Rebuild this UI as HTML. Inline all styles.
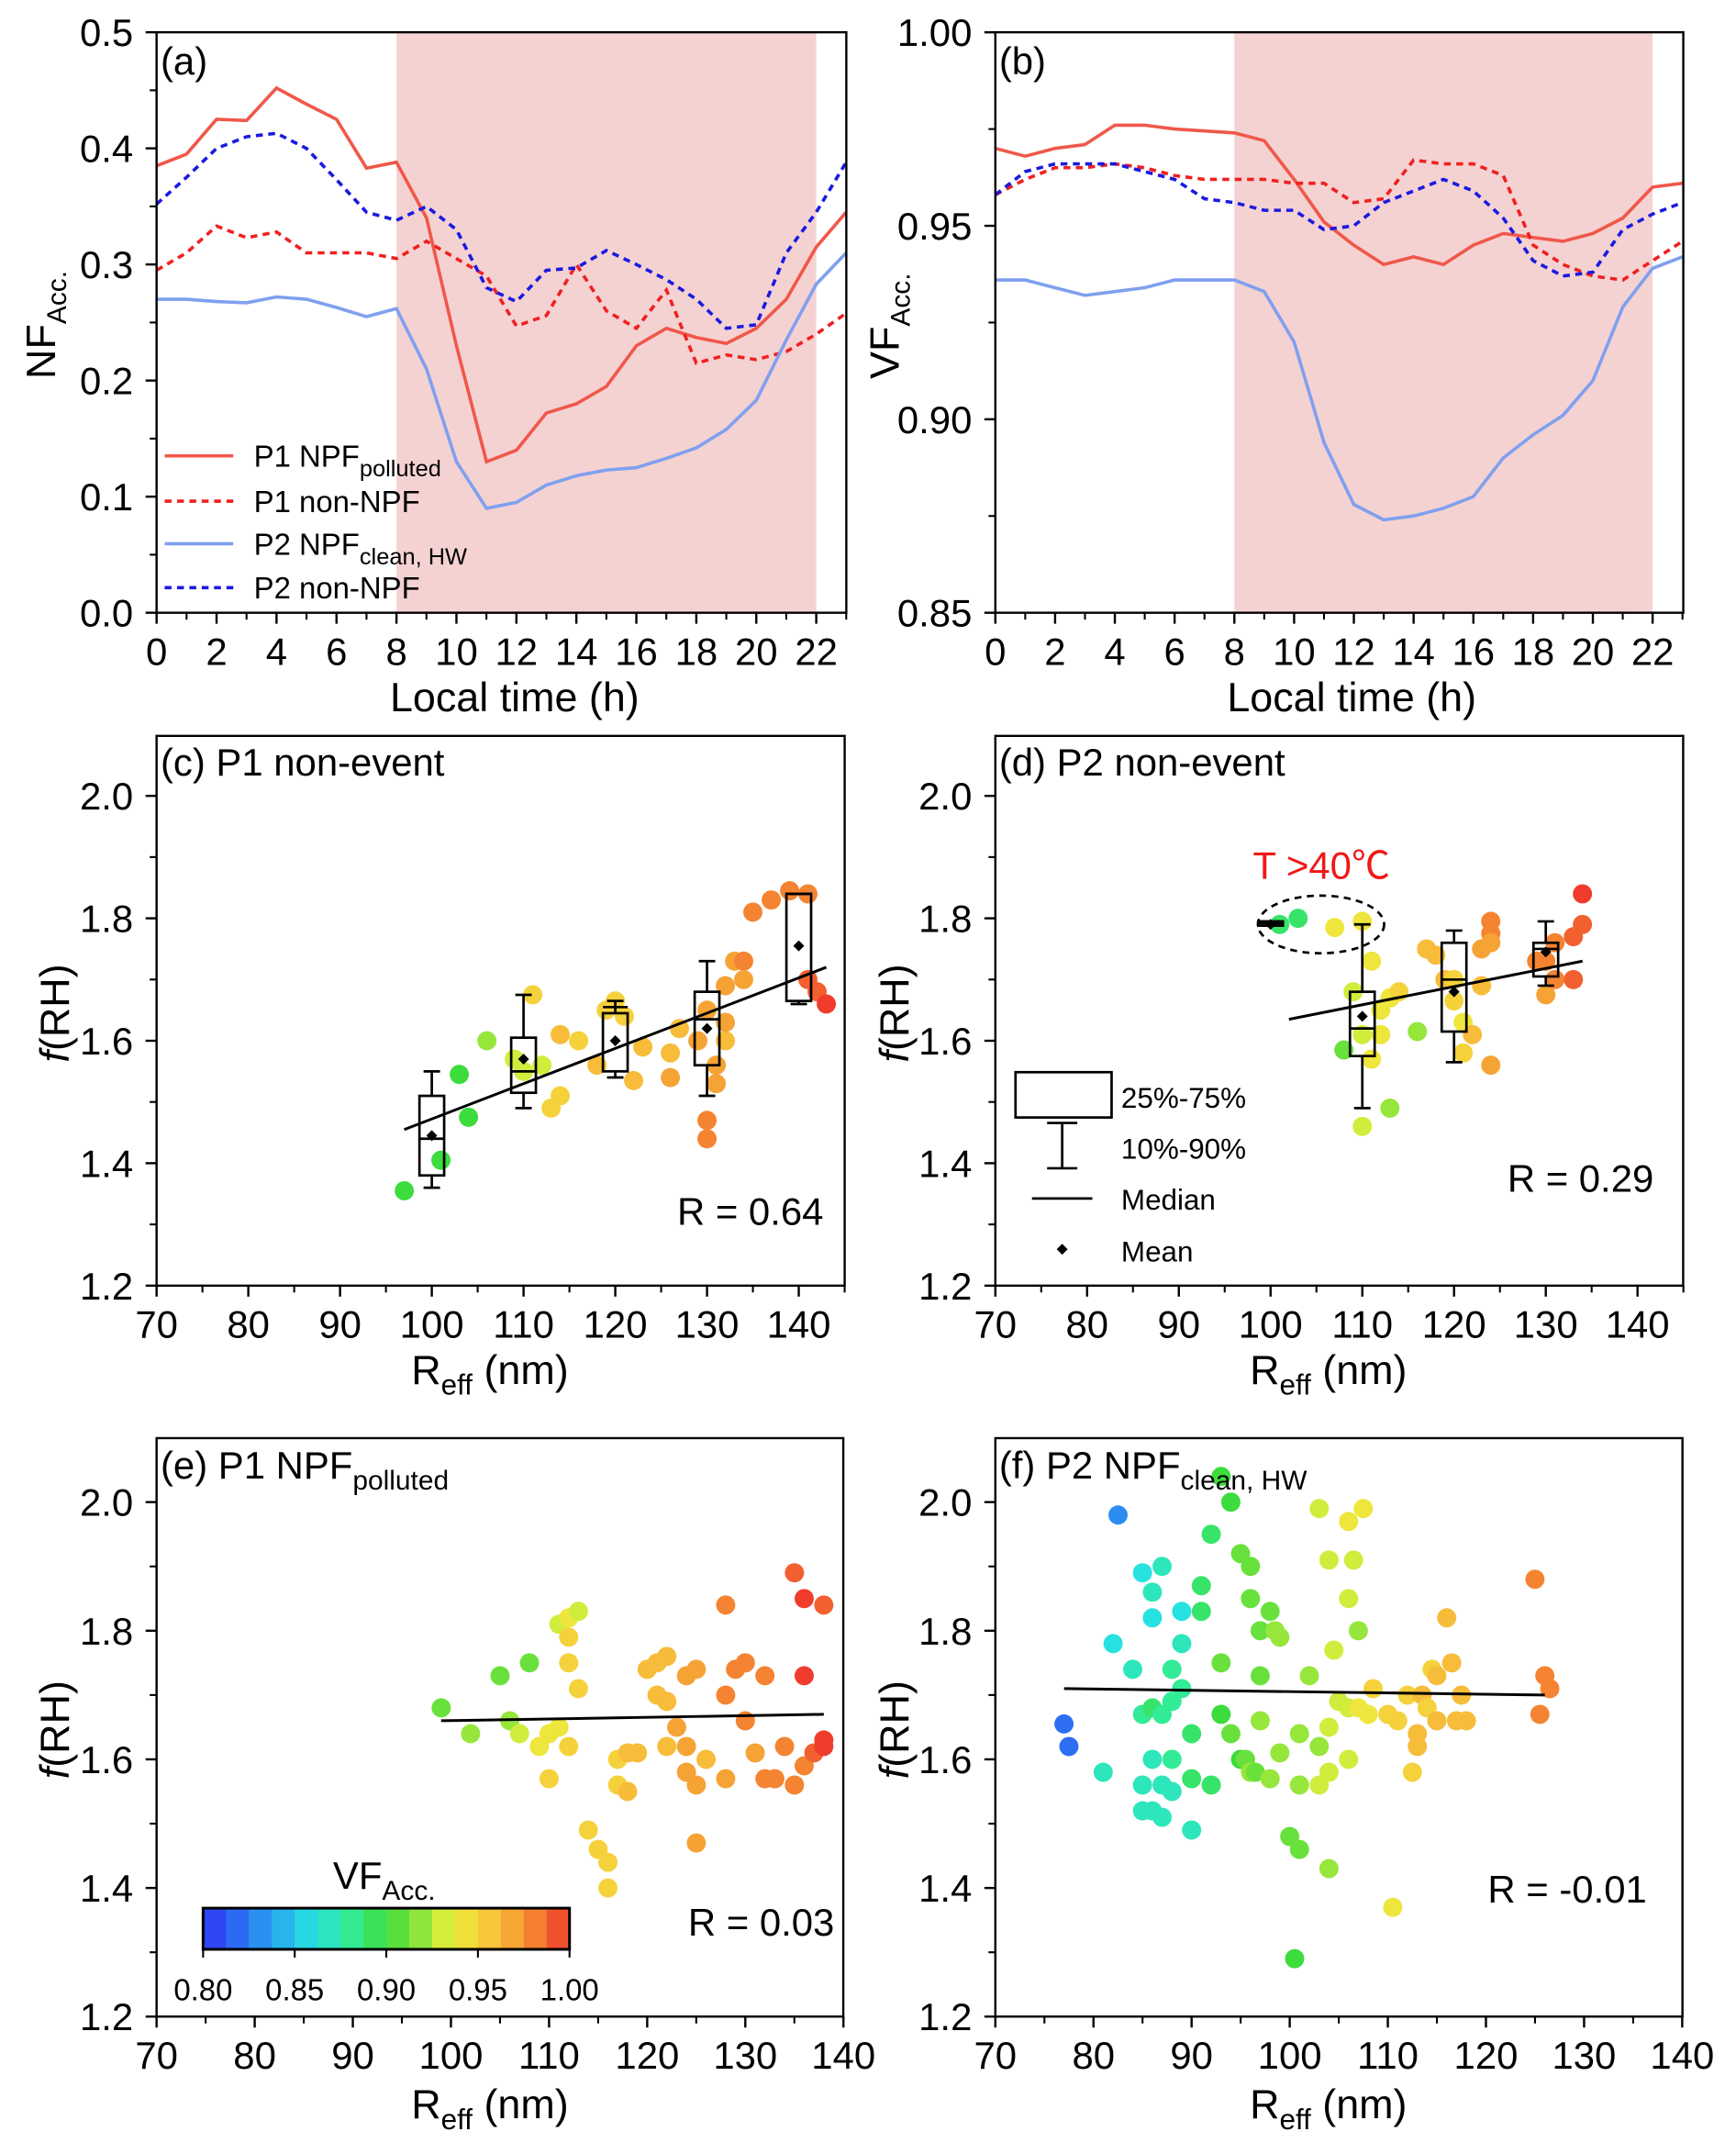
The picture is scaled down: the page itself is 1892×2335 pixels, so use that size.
<!DOCTYPE html>
<html><head><meta charset="utf-8"><style>
html,body{margin:0;padding:0;background:#fff}
svg{display:block;font-family:"Liberation Sans",Arial,sans-serif}
</style></head><body>
<svg id="fig" xmlns="http://www.w3.org/2000/svg" width="1892" height="2335" viewBox="0 0 1265 1561"></svg>
<script>
// ---- data ----
const hours=[0,1,2,3,4,5,6,7,8,9,10,11,12,13,14,15,16,17,18,19,20,21,22,23];
const nfP1Npf=[0.385,0.395,0.425,0.424,0.452,0.438,0.425,0.383,0.388,0.34,0.23,0.13,0.14,0.172,0.18,0.195,0.23,0.245,0.237,0.232,0.245,0.27,0.315,0.345];
const nfP1Non=[0.295,0.31,0.333,0.323,0.328,0.31,0.31,0.31,0.305,0.32,0.305,0.29,0.247,0.256,0.3,0.26,0.245,0.278,0.215,0.222,0.218,0.225,0.24,0.258];
const nfP2Npf=[0.27,0.27,0.268,0.267,0.272,0.27,0.263,0.255,0.262,0.21,0.13,0.09,0.095,0.11,0.118,0.123,0.125,0.133,0.142,0.158,0.183,0.235,0.283,0.31];
const nfP2Non=[0.352,0.375,0.40,0.41,0.413,0.40,0.373,0.345,0.338,0.35,0.33,0.28,0.268,0.295,0.297,0.312,0.30,0.287,0.27,0.245,0.248,0.31,0.345,0.388];
const vfP1Npf=[0.970,0.968,0.970,0.971,0.976,0.976,0.975,0.9745,0.974,0.972,0.962,0.951,0.945,0.940,0.942,0.940,0.945,0.948,0.947,0.946,0.948,0.952,0.960,0.961];
const vfP1Non=[0.958,0.962,0.965,0.965,0.966,0.965,0.963,0.962,0.962,0.962,0.961,0.961,0.956,0.957,0.967,0.966,0.966,0.963,0.945,0.940,0.937,0.936,0.941,0.946];
const vfP2Npf=[0.936,0.936,0.934,0.932,0.933,0.934,0.936,0.936,0.936,0.933,0.920,0.894,0.878,0.874,0.875,0.877,0.880,0.890,0.896,0.901,0.910,0.929,0.939,0.942];
const vfP2Non=[0.958,0.964,0.966,0.966,0.966,0.964,0.962,0.957,0.956,0.954,0.954,0.949,0.950,0.956,0.959,0.962,0.959,0.952,0.941,0.937,0.938,0.949,0.953,0.956];
const shadeRange=[8,22];
const ptsC=[[97,1.355,0.90],[101,1.405,0.90],[103,1.545,0.90],[104,1.475,0.90],[106,1.60,0.92],[109,1.57,0.93],[110,1.55,0.93],[111,1.675,0.95],[112,1.56,0.93],[113,1.49,0.95],[114,1.51,0.95],[114,1.61,0.96],[116,1.60,0.95],[118,1.56,0.96],[119,1.65,0.95],[120,1.665,0.95],[121,1.64,0.95],[122,1.535,0.96],[123,1.59,0.96],[126,1.58,0.96],[126,1.54,0.97],[127,1.62,0.96],[129,1.60,0.97],[130,1.65,0.97],[130,1.47,0.98],[130,1.44,0.98],[131,1.56,0.97],[131,1.53,0.97],[132,1.69,0.97],[132,1.60,0.96],[132,1.63,0.97],[133,1.73,0.97],[134,1.73,0.98],[134,1.70,0.97],[135,1.81,0.98],[137,1.83,0.98],[139,1.845,0.98],[141,1.84,0.98],[141,1.70,0.99],[142,1.68,0.99],[143,1.66,1.0]];
const boxC=[[100,1.36,1.38,1.44,1.51,1.55,1.445],[110,1.49,1.515,1.55,1.605,1.675,1.57],[120,1.54,1.55,1.655,1.645,1.665,1.60],[130,1.51,1.56,1.635,1.68,1.73,1.62],[140,1.66,1.665,1.84,1.84,1.84,1.755]];
const fitC=[[97,1.455],[143,1.72]];
const ptsD=[[101,1.79,0.89],[103,1.80,0.89],[107,1.785,0.94],[110,1.795,0.94],[108,1.585,0.91],[109,1.68,0.93],[110,1.46,0.93],[110,1.61,0.93],[111,1.73,0.94],[111,1.57,0.94],[112,1.65,0.94],[112,1.61,0.94],[113,1.49,0.92],[113,1.67,0.94],[114,1.68,0.95],[116,1.615,0.92],[117,1.75,0.96],[118,1.74,0.96],[119,1.70,0.96],[120,1.70,0.95],[120,1.665,0.95],[121,1.63,0.94],[121,1.58,0.95],[122,1.61,0.96],[123,1.75,0.97],[123,1.69,0.96],[124,1.56,0.97],[124,1.795,0.98],[124,1.775,0.98],[124,1.76,0.97],[129,1.73,0.98],[130,1.73,0.98],[130,1.675,0.97],[131,1.76,0.98],[131,1.70,0.98],[133,1.70,0.99],[133,1.77,0.99],[134,1.79,0.99],[134,1.84,1.0]];
const boxD=[[100,1.788,1.788,1.792,1.795,1.795,1.79],[110,1.49,1.575,1.62,1.68,1.79,1.64],[120,1.565,1.615,1.70,1.76,1.78,1.68],[130,1.69,1.705,1.75,1.76,1.795,1.745]];
const fitD=[[102,1.635],[134,1.73]];
const ptsE=[[99,1.68,0.91],[102,1.64,0.92],[105,1.73,0.91],[106,1.66,0.92],[107,1.64,0.93],[108,1.75,0.91],[109,1.62,0.94],[110,1.64,0.94],[110,1.57,0.95],[111,1.81,0.93],[111,1.65,0.94],[112,1.82,0.94],[112,1.79,0.95],[112,1.75,0.95],[112,1.62,0.95],[113,1.83,0.93],[113,1.71,0.95],[114,1.49,0.95],[115,1.46,0.95],[116,1.44,0.95],[116,1.40,0.95],[117,1.60,0.95],[117,1.56,0.95],[118,1.61,0.96],[118,1.55,0.96],[119,1.61,0.96],[120,1.74,0.96],[121,1.70,0.96],[121,1.75,0.96],[122,1.76,0.96],[122,1.62,0.96],[122,1.69,0.96],[123,1.65,0.97],[124,1.73,0.97],[124,1.62,0.97],[124,1.58,0.97],[125,1.74,0.97],[125,1.56,0.97],[125,1.47,0.97],[126,1.60,0.96],[128,1.57,0.97],[128,1.84,0.98],[128,1.70,0.98],[129,1.74,0.98],[130,1.75,0.98],[130,1.66,0.98],[131,1.61,0.97],[132,1.57,0.98],[132,1.73,0.98],[133,1.57,0.98],[134,1.62,0.98],[135,1.89,0.99],[135,1.56,0.98],[136,1.85,1.0],[136,1.73,1.0],[136,1.59,0.98],[137,1.61,0.99],[138,1.84,0.99],[138,1.63,1.0],[138,1.62,1.0]];
const fitE=[[99,1.66],[138,1.67]];
const ptsF=[[77,1.655,0.82],[77.5,1.62,0.82],[82.5,1.98,0.83],[82,1.78,0.86],[81,1.58,0.87],[84,1.74,0.87],[85,1.89,0.86],[85,1.67,0.88],[85,1.56,0.87],[85,1.52,0.87],[86,1.86,0.87],[86,1.82,0.86],[86,1.68,0.89],[86,1.60,0.87],[86,1.52,0.87],[87,1.90,0.87],[87,1.56,0.87],[87,1.51,0.87],[87,1.67,0.88],[88,1.74,0.88],[88,1.69,0.88],[88,1.55,0.87],[88,1.60,0.88],[89,1.78,0.87],[89,1.83,0.86],[89,1.71,0.88],[90,1.49,0.87],[90,1.64,0.89],[90,1.57,0.89],[91,1.87,0.89],[91,1.83,0.89],[92,1.95,0.89],[92,1.56,0.89],[93,2.04,0.90],[93,1.75,0.91],[93,1.67,0.90],[94,2.00,0.90],[94,1.64,0.91],[95,1.60,0.90],[95.5,1.60,0.91],[95,1.92,0.91],[96,1.90,0.91],[96,1.85,0.91],[96,1.58,0.92],[96.5,1.58,0.91],[97,1.80,0.91],[97,1.73,0.91],[97,1.66,0.92],[98,1.83,0.91],[98,1.57,0.92],[98.5,1.80,0.92],[99,1.79,0.92],[99,1.61,0.92],[100,1.48,0.91],[101,1.46,0.91],[100.5,1.29,0.90],[101,1.64,0.92],[101,1.56,0.92],[102,1.73,0.92],[103,1.56,0.93],[103,1.99,0.93],[103,1.62,0.92],[104,1.91,0.93],[104,1.65,0.93],[104,1.58,0.93],[104,1.43,0.92],[104.5,1.77,0.93],[105,1.69,0.93],[106,1.68,0.93],[106,1.85,0.93],[106,1.97,0.94],[106.5,1.91,0.93],[106,1.60,0.93],[107,1.80,0.92],[107,1.68,0.94],[107.5,1.99,0.94],[108,1.67,0.94],[108.5,1.71,0.95],[110.5,1.37,0.94],[110,1.67,0.95],[111,1.66,0.95],[112.5,1.58,0.95],[112,1.70,0.95],[113,1.62,0.96],[113.5,1.70,0.96],[113,1.64,0.96],[114,1.68,0.95],[114.5,1.74,0.95],[115,1.73,0.96],[115,1.66,0.96],[116,1.82,0.96],[116.5,1.75,0.96],[117,1.66,0.96],[117.5,1.70,0.96],[118,1.66,0.96],[125,1.88,0.98],[125.5,1.67,0.98],[126,1.73,0.98],[126.5,1.71,0.98]];
const fitF=[[77,1.71],[126,1.70]];
const cbTicks=[0.80,0.85,0.90,0.95,1.00];
const tickHours=[0,2,4,6,8,10,12,14,16,18,20,22];
const tickR=[70,80,90,100,110,120,130,140];
const tickFrh=[1.2,1.4,1.6,1.8,2.0];

// ---- helpers ----
const S='http://www.w3.org/2000/svg';
const svg=document.getElementById('fig');
function mk(tag,attrs,parent,text){const e=document.createElementNS(S,tag);for(const k in attrs)e.setAttribute(k,attrs[k]);if(text!==undefined)e.textContent=text;(parent||svg).appendChild(e);return e;}
function cmap(v){
  const stops=[[0.80,[50,50,245]],[0.84,[40,170,240]],[0.86,[40,225,225]],[0.88,[50,235,150]],[0.90,[60,220,60]],[0.92,[150,230,60]],[0.935,[235,240,60]],[0.955,[248,200,60]],[0.975,[245,150,50]],[1.0,[240,60,45]]];
  v=Math.max(0.8,Math.min(1,v));
  for(let i=0;i<stops.length-1;i++){const a=stops[i],b=stops[i+1];if(v<=b[0]){const t=(v-a[0])/(b[0]-a[0]);const c=a[1].map((x,j)=>Math.round(x+(b[1][j]-x)*t));return 'rgb('+c.join(',')+')';}}
  return 'rgb(240,60,45)';
}
function panel(p){
  const g=mk('g',{});
  
  
  p.g=g;
  p.sx=v=>p.px0+(v-p.xa)*p.xk;
  p.sy=v=>p.py0-(v-p.ya)*p.yk;
  return p;
}
function frame(p){
  const f=mk('rect',{x:p.L,y:p.T,width:p.R-p.L,height:p.B-p.T,fill:'none',stroke:'#000','stroke-width':1.6},p.g);
  
  
  const xt=mk('g',{},p.g);
  
  
  p.xticks.forEach((v,i)=>{
    const x=p.sx(v);
    mk('line',{x1:x,x2:x,y1:p.B,y2:p.B+8,stroke:'#000','stroke-width':1.6},xt);
    mk('text',{x:x,y:p.B+38,'text-anchor':'middle','font-size':28},xt,p.xlab[i]);
    const xm=p.sx(v+p.minor);
    if(xm<=p.R+0.5)mk('line',{x1:xm,x2:xm,y1:p.B,y2:p.B+5,stroke:'#000','stroke-width':1.4},xt);
  });
  const yt=mk('g',{},p.g);
  
  
  p.yticks.forEach((v,i)=>{
    const y=p.sy(v);
    mk('line',{x1:p.L-8,x2:p.L,y1:y,y2:y,stroke:'#000','stroke-width':1.6},yt);
    mk('text',{x:p.L-17,y:y+10,'text-anchor':'end','font-size':28},yt,p.ylab[i]);
    if(i<p.yticks.length-1){const ym=p.sy((v+p.yticks[i+1])/2);mk('line',{x1:p.L-5,x2:p.L,y1:ym,y2:ym,stroke:'#000','stroke-width':1.4},yt);}
  });
}
function line(p,xs,ys,color,dash,name){
  const d=xs.map((x,i)=>(i?'L':'M')+p.sx(x).toFixed(1)+','+p.sy(ys[i]).toFixed(1)).join('');
  const e=mk('path',{d:d,fill:'none',stroke:color,'stroke-width':2.4,'stroke-dasharray':dash||'none'},p.g);
  
  
}
function shade(p){
  const e=mk('rect',{x:p.sx(shadeRange[0]),y:p.T,width:p.sx(shadeRange[1])-p.sx(shadeRange[0]),height:p.B-p.T,fill:'#f5d2d2'},p.g);
  
  
}
function scatter(p,pts){
  const g=mk('g',{},p.g);
  
  
  pts.forEach(q=>{
    const c=mk('circle',{cx:p.sx(q[0]).toFixed(1),cy:p.sy(q[1]).toFixed(1),r:7,fill:cmap(q[2])},g);
    
    
  });
}
function fit(p,f){
  const e=mk('line',{x1:p.sx(f[0][0]),y1:p.sy(f[0][1]),x2:p.sx(f[1][0]),y2:p.sy(f[1][1]),stroke:'#000','stroke-width':2},p.g);
  
  
}
function boxes(p,bs){
  bs.forEach(b=>{
    const g=mk('g',{},p.g);
    
    
    const x=p.sx(b[0]),w=9;
    mk('line',{x1:x,x2:x,y1:p.sy(b[1]),y2:p.sy(b[2]),stroke:'#000','stroke-width':1.8},g);
    mk('line',{x1:x,x2:x,y1:p.sy(b[4]),y2:p.sy(b[5]),stroke:'#000','stroke-width':1.8},g);
    mk('line',{x1:x-6,x2:x+6,y1:p.sy(b[1]),y2:p.sy(b[1]),stroke:'#000','stroke-width':1.8},g);
    mk('line',{x1:x-6,x2:x+6,y1:p.sy(b[5]),y2:p.sy(b[5]),stroke:'#000','stroke-width':1.8},g);
    mk('rect',{x:x-w,y:p.sy(b[4]),width:2*w,height:Math.max(2,p.sy(b[2])-p.sy(b[4])),fill:'none',stroke:'#000','stroke-width':1.8},g);
    mk('line',{x1:x-w,x2:x+w,y1:p.sy(b[3]),y2:p.sy(b[3]),stroke:'#000','stroke-width':1.8},g);
    const m=p.sy(b[6]);
    mk('path',{d:`M${x},${m-4}L${x+4},${m}L${x},${m+4}L${x-4},${m}Z`,fill:'#000'},g);
  });
}
function txt(p,x,y,s,size,name,extra){
  const e=mk('text',Object.assign({x:x,y:y,'font-size':size||28},extra||{}),p?p.g:svg);
  e.innerHTML=s;
  
  
  return e;
}
const hl=tickHours.map(String), rl=tickR.map(String), fl=tickFrh.map(v=>v.toFixed(1));
const REFF='R<tspan font-size="21" dy="8">eff</tspan><tspan dy="-8"> (nm)</tspan>';
const FRH='<tspan font-style="italic">f</tspan>(RH)';

// ---- panel a ----
const A=panel({name:'panel-a',L:114.1,R:616.7,T:23.4,B:446.3,px0:114.1,xa:0,xk:21.85,py0:446.3,ya:0,yk:845.8,minor:1,xticks:tickHours,xlab:hl,yticks:[0,0.1,0.2,0.3,0.4,0.5],ylab:['0.0','0.1','0.2','0.3','0.4','0.5']});
shade(A);
line(A,hours,nfP1Npf,'#f0584a',null,'line-p1-npf');
line(A,hours,nfP1Non,'#f02020','5,4','line-p1-non-npf');
line(A,hours,nfP2Npf,'#7fa0ef',null,'line-p2-npf');
line(A,hours,nfP2Non,'#1a1ae0','5,4','line-p2-non-npf');
frame(A);
txt(A,117,54,'(a)',28,'panel-label-a');
txt(A,375,518,'Local time (h)',30,'x-axis-title-a',{'text-anchor':'middle'});
txt(A,0,0,'NF<tspan font-size="20" dy="8">Acc.</tspan>',30,'y-axis-title-a',{transform:'translate(40,276) rotate(-90)'});
const leg=mk('g',{},A.g);


[['#f0584a','none','P1 NPF<tspan font-size="17" dy="7">polluted</tspan>',332],['#f02020','5,4','P1 non-NPF',365],['#7fa0ef','none','P2 NPF<tspan font-size="17" dy="7">clean, HW</tspan>',396],['#1a1ae0','5,4','P2 non-NPF',428]].forEach(r=>{
  const e=mk('g',{},leg);
  
  
  mk('line',{x1:120,x2:170,y1:r[3],y2:r[3],stroke:r[0],'stroke-width':2.4,'stroke-dasharray':r[1]},e);
  const t=mk('text',{x:185,y:r[3]+8,'font-size':22},e);t.innerHTML=r[2];
});

// ---- panel b ----
const B=panel({name:'panel-b',L:725.3,R:1226.6,T:23.4,B:446.3,px0:725.3,xa:0,xk:21.77,py0:446.3,ya:0.85,yk:2819,minor:1,xticks:tickHours,xlab:hl,yticks:[0.85,0.90,0.95,1.00],ylab:['0.85','0.90','0.95','1.00']});
shade(B);
line(B,hours,vfP1Npf,'#f0584a',null,'line-p1-npf');
line(B,hours,vfP1Non,'#f02020','5,4','line-p1-non-npf');
line(B,hours,vfP2Npf,'#7fa0ef',null,'line-p2-npf');
line(B,hours,vfP2Non,'#1a1ae0','5,4','line-p2-non-npf');
frame(B);
txt(B,728,54,'(b)',28,'panel-label-b');
txt(B,985,518,'Local time (h)',30,'x-axis-title-b',{'text-anchor':'middle'});
txt(B,0,0,'VF<tspan font-size="20" dy="8">Acc.</tspan>',30,'y-axis-title-b',{transform:'translate(655,276) rotate(-90)'});

// ---- panel c ----
const C=panel({name:'panel-c',L:114.1,R:615.5,T:536,B:936.5,px0:114.1,xa:70,xk:6.685,py0:936.5,ya:1.2,yk:446,minor:5,xticks:tickR,xlab:rl,yticks:tickFrh,ylab:fl});
scatter(C,ptsC);boxes(C,boxC);fit(C,fitC);frame(C);
txt(C,117,565,'(c) P1 non-event',28,'panel-label-c');
txt(C,600,892,'R = 0.64',28,'r-value-c',{'text-anchor':'end'});
txt(C,357,1008,REFF,30,'x-axis-title-c',{'text-anchor':'middle'});
txt(C,0,0,FRH,30,'y-axis-title-c',{transform:'translate(50,738) rotate(-90)','text-anchor':'middle'});

// ---- panel d ----
const D=panel({name:'panel-d',L:725.3,R:1226.5,T:536,B:936.5,px0:725.3,xa:70,xk:6.685,py0:936.5,ya:1.2,yk:446,minor:5,xticks:tickR,xlab:rl,yticks:tickFrh,ylab:fl});
scatter(D,ptsD);boxes(D,boxD);fit(D,fitD);
const ell=mk('ellipse',{cx:D.sx(105.5),cy:D.sy(1.79),rx:46,ry:21,fill:'none',stroke:'#000','stroke-width':1.8,'stroke-dasharray':'5,4'},D.g);


txt(D,913,640,'T &gt;40℃',28,'annotation-temp',{fill:'#f01818','font-family':'"Liberation Sans","Noto Sans CJK SC",sans-serif'});
const bl=mk('g',{},D.g);


mk('rect',{x:740,y:781,width:70,height:33,fill:'none',stroke:'#000','stroke-width':1.8},bl);
mk('line',{x1:774,x2:774,y1:818,y2:851,stroke:'#000','stroke-width':1.8},bl);
mk('line',{x1:763,x2:785,y1:818,y2:818,stroke:'#000','stroke-width':1.8},bl);
mk('line',{x1:763,x2:785,y1:851,y2:851,stroke:'#000','stroke-width':1.8},bl);
mk('line',{x1:752,x2:796,y1:873,y2:873,stroke:'#000','stroke-width':1.8},bl);
mk('path',{d:'M774,906L778,910L774,914L770,910Z',fill:'#000'},bl);
[['25%-75%',807],['10%-90%',844],['Median',881],['Mean',919]].forEach(r=>{mk('text',{x:817,y:r[1],'font-size':21},bl,r[0]);});
frame(D);
txt(D,728,565,'(d) P2 non-event',28,'panel-label-d');
txt(D,1205,868,'R = 0.29',28,'r-value-d',{'text-anchor':'end'});
txt(D,968,1008,REFF,30,'x-axis-title-d',{'text-anchor':'middle'});
txt(D,0,0,FRH,30,'y-axis-title-d',{transform:'translate(662,738) rotate(-90)','text-anchor':'middle'});

// ---- panel e ----
const E=panel({name:'panel-e',L:114.1,R:614.5,T:1047.6,B:1469,px0:114.1,xa:70,xk:7.15,py0:1469,ya:1.2,yk:468.5,minor:5,xticks:tickR,xlab:rl,yticks:tickFrh,ylab:fl});
scatter(E,ptsE);fit(E,fitE);frame(E);
txt(E,117,1077,'(e) P1 NPF<tspan font-size="20" dy="8">polluted</tspan>',28,'panel-label-e');
txt(E,608,1410,'R = 0.03',28,'r-value-e',{'text-anchor':'end'});
txt(E,357,1543,REFF,30,'x-axis-title-e',{'text-anchor':'middle'});
txt(E,0,0,FRH,30,'y-axis-title-e',{transform:'translate(50,1260) rotate(-90)','text-anchor':'middle'});
const cb=mk('g',{},E.g);


const cbx=v=>148+(v-0.8)/0.2*267;
for(let i=0;i<16;i++){const v0=0.8+i*0.0125;mk('rect',{x:cbx(v0),y:1390,width:267/16+0.5,height:30,fill:cmap(v0+0.00625)},cb);}
mk('rect',{x:148,y:1390,width:267,height:30,fill:'none',stroke:'#000','stroke-width':2},cb);
cbTicks.forEach(v=>{mk('line',{x1:cbx(v),x2:cbx(v),y1:1420,y2:1426,stroke:'#000','stroke-width':1.4},cb);mk('text',{x:cbx(v),y:1457,'text-anchor':'middle','font-size':22},cb,v.toFixed(2));});
txt(E,280,1376,'VF<tspan font-size="20" dy="8">Acc.</tspan>',28,'colorbar-title',{'text-anchor':'middle'});

// ---- panel f ----
const F=panel({name:'panel-f',L:725.3,R:1226,T:1047.6,B:1469,px0:725.3,xa:70,xk:7.15,py0:1469,ya:1.2,yk:468.5,minor:5,xticks:tickR,xlab:rl,yticks:tickFrh,ylab:fl});
scatter(F,ptsF);fit(F,fitF);frame(F);
txt(F,728,1077,'(f) P2 NPF<tspan font-size="20" dy="8">clean, HW</tspan>',28,'panel-label-f');
txt(F,1200,1386,'R = -0.01',28,'r-value-f',{'text-anchor':'end'});
txt(F,968,1543,REFF,30,'x-axis-title-f',{'text-anchor':'middle'});
txt(F,0,0,FRH,30,'y-axis-title-f',{transform:'translate(662,1260) rotate(-90)','text-anchor':'middle'});
</script>
</body></html>
